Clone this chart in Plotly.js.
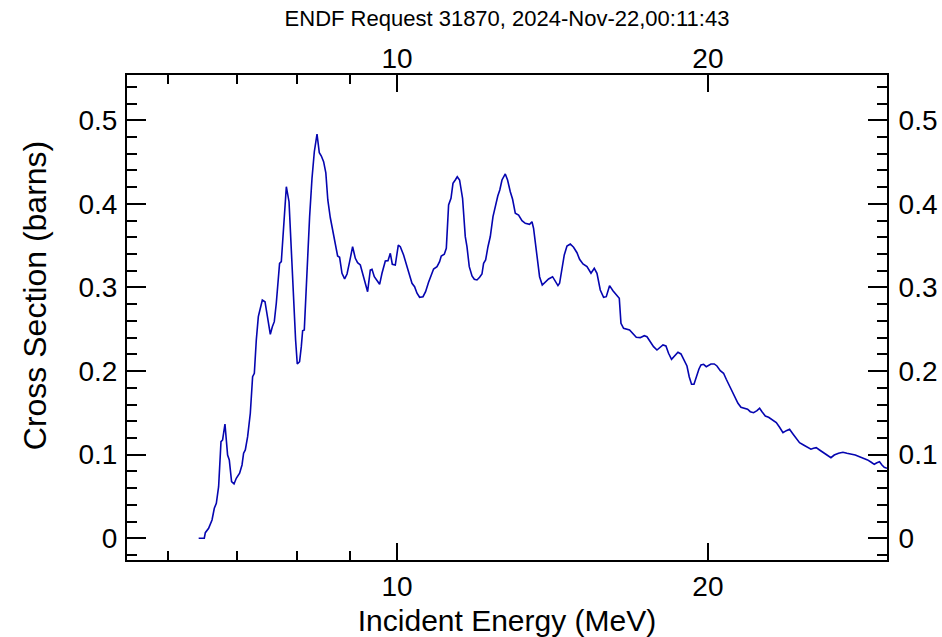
<!DOCTYPE html>
<html>
<head>
<meta charset="utf-8">
<script src="https://cdn.plot.ly/plotly-3.0.1.min.js"></script>
<style>html,body{margin:0;padding:0;background:#fff;}#chart{width:942px;height:637px;}</style>
</head>
<body>
<div id="chart"></div>
<script>
const energy = [6.427, 6.508, 6.523, 6.571, 6.621, 6.655, 6.685, 6.719, 6.755, 6.779,
6.815, 6.855, 6.881, 6.916, 6.954, 6.989, 7.041, 7.079, 7.104, 7.131,
7.168, 7.211, 7.248, 7.276, 7.308, 7.341, 7.374, 7.407, 7.451, 7.485,
7.518, 7.540, 7.574, 7.607, 7.641, 7.675, 7.697, 7.727, 7.767, 7.814,
7.861, 7.901, 7.941, 7.977, 8.007, 8.048, 8.079, 8.103, 8.133, 8.164,
8.193, 8.230, 8.274, 8.317, 8.367, 8.410, 8.448, 8.491, 8.533, 8.571,
8.618, 8.671, 8.715, 8.760, 8.799, 8.846, 8.898, 8.946, 8.998, 9.058,
9.113, 9.159, 9.215, 9.283, 9.366, 9.422, 9.458, 9.507, 9.564, 9.620,
9.671, 9.743, 9.801, 9.852, 9.896, 9.962, 10.029, 10.074, 10.148, 10.209,
10.271, 10.340, 10.400, 10.456, 10.517, 10.597, 10.658, 10.729, 10.787, 10.850,
10.933, 10.996, 11.037, 11.112, 11.162, 11.219, 11.279, 11.329, 11.387, 11.438,
11.497, 11.574, 11.644, 11.688, 11.748, 11.820, 11.881, 11.952, 12.022, 12.085,
12.129, 12.184, 12.248, 12.312, 12.386, 12.436, 12.519, 12.575, 12.637, 12.730,
12.795, 12.873, 12.939, 13.017, 13.113, 13.213, 13.311, 13.438, 13.511, 13.559,
13.662, 13.741, 13.824, 13.917, 14.020, 14.145, 14.230, 14.316, 14.368, 14.445,
14.519, 14.607, 14.715, 14.823, 14.936, 15.023, 15.137, 15.273, 15.410, 15.523,
15.617, 15.732, 15.849, 15.944, 16.061, 16.183, 16.303, 16.413, 16.475, 16.571,
16.793, 16.921, 17.047, 17.199, 17.353, 17.458, 17.587, 17.716, 17.851, 17.982,
18.092, 18.212, 18.318, 18.441, 18.553, 18.706, 18.832, 18.942, 19.086, 19.184,
19.282, 19.387, 19.499, 19.603, 19.691, 19.806, 19.925, 20.027, 20.134, 20.283,
20.405, 20.557, 20.708, 20.834, 20.941, 21.101, 21.222, 21.384, 21.528, 21.688,
21.847, 21.979, 22.142, 22.311, 22.441, 22.560, 22.728, 22.894, 23.120, 23.291,
23.462, 23.641, 23.816, 23.990, 24.173, 24.351, 24.530, 24.749, 24.970, 25.160,
25.307, 25.459, 25.648, 25.844, 26.075, 26.308, 26.503, 26.757, 27.021, 27.264,
27.509, 27.774, 28.039, 28.292, 28.545, 28.781, 28.974, 29.148, 29.318, 29.476,
29.627, 29.806];

const crossSection = [0, 0, 0.0067, 0.012, 0.0219, 0.0359, 0.0419, 0.0617, 0.1156, 0.1176,
0.1367, 0.0996, 0.0937, 0.0677, 0.065, 0.0718, 0.0778, 0.0877, 0.1017, 0.1056,
0.1215, 0.1495, 0.1933, 0.1974, 0.2372, 0.2651, 0.2751, 0.285, 0.283, 0.2671,
0.2572, 0.244, 0.2531, 0.2591, 0.2811, 0.305, 0.3289, 0.3309, 0.3688, 0.4206,
0.4026, 0.3409, 0.277, 0.2372, 0.2085, 0.2112, 0.2292, 0.2483, 0.2492, 0.2931,
0.3409, 0.3847, 0.4306, 0.4624, 0.4836, 0.4612, 0.4573, 0.4505, 0.437, 0.4047,
0.3837, 0.3648, 0.3488, 0.3377, 0.3361, 0.317, 0.3102, 0.3161, 0.3309, 0.3488,
0.3349, 0.3297, 0.3269, 0.311, 0.295, 0.3209, 0.3218, 0.3129, 0.309, 0.3038,
0.317, 0.3317, 0.3321, 0.3409, 0.3278, 0.3269, 0.3508, 0.3488, 0.3389, 0.3269,
0.317, 0.305, 0.301, 0.2931, 0.2883, 0.289, 0.295, 0.3062, 0.3129, 0.3221,
0.3249, 0.3309, 0.3377, 0.3397, 0.3469, 0.3987, 0.4067, 0.4246, 0.4286, 0.4325,
0.4286, 0.4067, 0.3608, 0.3488, 0.3249, 0.3138, 0.3098, 0.309, 0.3122, 0.3161,
0.3289, 0.3329, 0.3488, 0.361, 0.3847, 0.3951, 0.4094, 0.4166, 0.4286, 0.4358,
0.4286, 0.4146, 0.4055, 0.3888, 0.3867, 0.3799, 0.3768, 0.3756, 0.3787, 0.3708,
0.3368, 0.3129, 0.303, 0.3069, 0.3102, 0.3129, 0.3069, 0.3022, 0.305, 0.3249,
0.3389, 0.3496, 0.352, 0.3481, 0.3416, 0.3337, 0.3281, 0.3249, 0.317, 0.323,
0.317, 0.297, 0.2883, 0.289, 0.3022, 0.2962, 0.2919, 0.2871, 0.2572, 0.2512,
0.2492, 0.2452, 0.2404, 0.24, 0.2423, 0.2411, 0.2352, 0.2292, 0.2252, 0.2285,
0.2312, 0.23, 0.2213, 0.2141, 0.2172, 0.2225, 0.2205, 0.2133, 0.2061, 0.1929,
0.1842, 0.1843, 0.1941, 0.2025, 0.2073, 0.2081, 0.2053, 0.2073, 0.2085, 0.2085,
0.2061, 0.2005, 0.1974, 0.1902, 0.1842, 0.1774, 0.1694, 0.1615, 0.1567, 0.1555,
0.1543, 0.1514, 0.1502, 0.1526, 0.1555, 0.1514, 0.1463, 0.1447, 0.1415, 0.1383,
0.1328, 0.1263, 0.1287, 0.1304, 0.1248, 0.1196, 0.1144, 0.1116, 0.1089, 0.1065,
0.1077, 0.1084, 0.1056, 0.1024, 0.0996, 0.0964, 0.0996, 0.1017, 0.1029, 0.1017,
0.1008, 0.0996, 0.0976, 0.0957, 0.0937, 0.0909, 0.0885, 0.0904, 0.0916, 0.0877,
0.0849, 0.0837];

const xMajorTicks = [10, 20];
const xMajorLabels = ['10', '20'];
const xMinorTicks = [6, 7, 8, 9];
const yMajorTicks = [0, 0.1, 0.2, 0.3, 0.4, 0.5];
const yMajorLabels = ['0', '0.1', '0.2', '0.3', '0.4', '0.5'];
const xRange = [5.478, 29.81];
const yRange = [-0.026, 0.5542];

const FONT = 'Liberation Sans, Arial, Helvetica, sans-serif';
const tickFont = {family: FONT, size: 28, color: '#000'};

function xAxisCfg(extra) {
  return Object.assign({
    type: 'log',
    range: [Math.log10(xRange[0]), Math.log10(xRange[1])],
    tickmode: 'array', tickvals: xMajorTicks, ticktext: xMajorLabels,
    ticks: 'inside', ticklen: 17, tickwidth: 2, tickcolor: '#000',
    minor: {tickmode: 'array', tickvals: xMinorTicks, ticks: 'inside', ticklen: 9, tickwidth: 2, tickcolor: '#000', showgrid: false},
    showline: true, linewidth: 2, linecolor: '#000',
    showgrid: false, zeroline: false, tickfont: tickFont, fixedrange: true
  }, extra);
}
function yAxisCfg(extra) {
  return Object.assign({
    range: yRange,
    tickmode: 'array', tickvals: yMajorTicks, ticktext: yMajorLabels,
    ticks: 'inside', ticklen: 19, tickwidth: 2, tickcolor: '#000',
    minor: {tickmode: 'linear', tick0: 0, dtick: 0.02, ticks: 'inside', ticklen: 10, tickwidth: 2, tickcolor: '#000', showgrid: false},
    showline: true, linewidth: 2, linecolor: '#000',
    showgrid: false, zeroline: false, tickfont: tickFont, fixedrange: true
  }, extra);
}

const traces = [
  {x: energy, y: crossSection, type: 'scatter', mode: 'lines',
   line: {color: '#0505b0', width: 1.6}, xaxis: 'x', yaxis: 'y', showlegend: false, hoverinfo: 'x+y'},
  {x: [], y: [], type: 'scatter', mode: 'lines', xaxis: 'x2', yaxis: 'y2', showlegend: false, hoverinfo: 'skip'}
];

const layout = {
  width: 942, height: 637,
  margin: {l: 127, r: 55, t: 75, b: 77, pad: 0},
  paper_bgcolor: '#fff', plot_bgcolor: '#fff',
  font: {family: FONT, color: '#000'},
  showlegend: false,
  title: {text: 'ENDF Request 31870, 2024-Nov-22,00:11:43', font: {family: FONT, size: 22, color: '#000'},
          xref: 'paper', x: 0.5, xanchor: 'center', yref: 'container', y: 0.972, yanchor: 'middle'},
  xaxis: xAxisCfg({side: 'bottom', anchor: 'y',
    title: {text: 'Incident Energy (MeV)', font: {family: FONT, size: 30, color: '#000'}, standoff: 10}}),
  xaxis2: xAxisCfg({side: 'top', overlaying: 'x', anchor: 'y', ticklabelstandoff: -6}),
  yaxis: yAxisCfg({side: 'left', anchor: 'x', ticklabelstandoff: 2}),
  yaxis2: yAxisCfg({side: 'right', overlaying: 'y', anchor: 'x', ticklabelstandoff: 4}),
  annotations: [{
    text: 'Cross Section (barns)', textangle: -90, showarrow: false,
    xref: 'paper', yref: 'paper', x: -0.121, y: 0.544, xanchor: 'center', yanchor: 'middle',
    font: {family: FONT, size: 32, color: '#000'}
  }]
};

Plotly.newPlot('chart', traces, layout, {displayModeBar: false, staticPlot: true});
</script>
</body>
</html>
